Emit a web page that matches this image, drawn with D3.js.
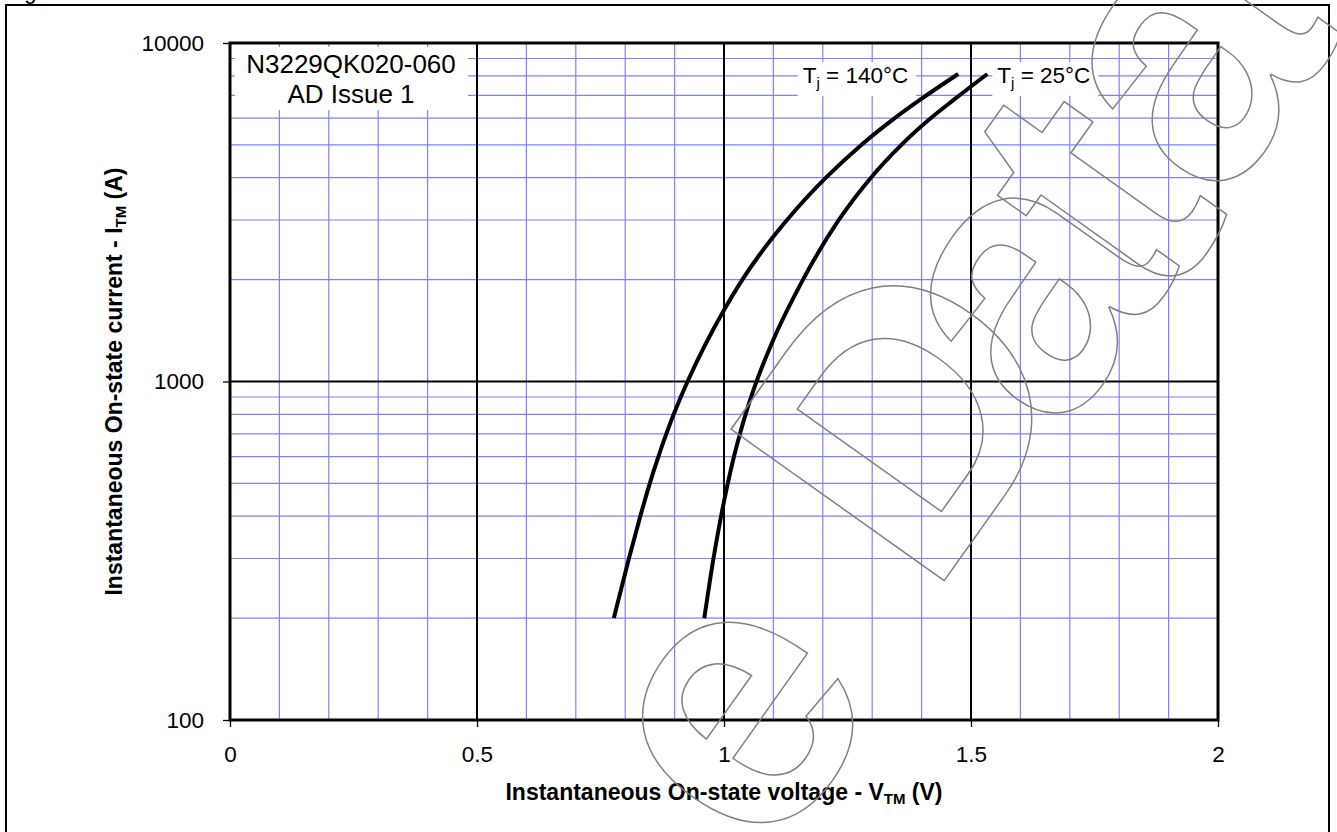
<!DOCTYPE html>
<html>
<head>
<meta charset="utf-8">
<script src="https://cdn.jsdelivr.net/npm/d3@7"></script>
<style>
	html, body { margin: 0; padding: 0; background: #fff; }
	svg { display: block; font-family: Arial, "Liberation Sans", sans-serif; }
</style>
</head>
<body>
<div id="chart"></div>
<script>
// values
var partLines = ['N3229QK020-060', 'AD Issue 1'];
var xTicks = [0, 0.5, 1, 1.5, 2];
var yTicks = [100, 1000, 10000];
var yMinor = [200, 300, 400, 500, 600, 700, 800, 900, 2000, 3000, 4000, 5000, 6000, 7000, 8000, 9000];

// Tj = 140°C
var volt140 = [0.777, 0.8075, 0.8306, 0.8498, 0.8672, 0.8832, 0.8982, 0.9126, 0.9263, 1.0, 1.0372, 1.0731, 1.1275, 1.2063, 1.2779, 1.3457, 1.3972, 1.4741];
var curr140 = [200, 300, 400, 500, 600, 700, 800, 900, 1000, 1626, 2000, 2381, 3000, 4000, 5000, 6000, 6800, 8100];
// Tj = 25°C
var volt25 = [0.9601, 0.9787, 0.9941, 1.0077, 1.0202, 1.0322, 1.0437, 1.0549, 1.0658, 1.0970, 1.1599, 1.2324, 1.2974, 1.3591, 1.4188, 1.4654, 1.5330];
var curr25 = [200, 300, 400, 500, 600, 700, 800, 900, 1000, 1300, 2000, 3000, 4000, 5000, 6000, 6800, 8100];

(function () {
	var width = 1337, height = 832;
	var margin = { top: 43, right: 119, bottom: 112, left: 230 };
	var plotW = width - margin.left - margin.right;
	var plotH = height - margin.top - margin.bottom;
	var blue = '#8080ff';

	var svg = d3.select('#chart').append('svg')
		.attr('width', width).attr('height', height);

	// outer frame (bottom edge runs off the page)
	svg.append('rect')
		.attr('x', 6).attr('y', 5)
		.attr('width', 1323).attr('height', 900)
		.attr('fill', 'none').attr('stroke', '#000').attr('stroke-width', 2);

	// caption cut off above the frame
	svg.append('text')
		.attr('x', 6).attr('y', -1.5)
		.attr('font-size', 22)
		.text('Figure 1');

	var x = d3.scaleLinear().domain([0, 2]).range([margin.left, margin.left + plotW]);
	var y = d3.scaleLog().domain([100, 10000]).range([margin.top + plotH, margin.top]);

	var xMinor = d3.range(1, 20).map(d => d / 10).filter(d => Math.round(d * 10) % 5 !== 0);

	var grid = svg.append('g');
	grid.selectAll('.vminor').data(xMinor).enter().append('line')
		.attr('x1', d => x(d)).attr('x2', d => x(d))
		.attr('y1', y(100)).attr('y2', y(10000))
		.attr('stroke', blue).attr('stroke-width', 1.2);
	grid.selectAll('.hminor').data(yMinor).enter().append('line')
		.attr('x1', x(0)).attr('x2', x(2))
		.attr('y1', d => y(d)).attr('y2', d => y(d))
		.attr('stroke', blue).attr('stroke-width', 1.2);

	// major grid lines
	grid.selectAll('.vmajor').data(xTicks.slice(1, -1)).enter().append('line')
		.attr('x1', d => x(d)).attr('x2', d => x(d))
		.attr('y1', y(100)).attr('y2', y(10000))
		.attr('stroke', '#000').attr('stroke-width', 2);
	grid.selectAll('.hmajor').data(yTicks.slice(1, -1)).enter().append('line')
		.attr('x1', x(0)).attr('x2', x(2))
		.attr('y1', d => y(d)).attr('y2', d => y(d))
		.attr('stroke', '#000').attr('stroke-width', 2);

	// axes
	var xAxis = svg.append('g')
		.attr('transform', 'translate(0,' + y(100) + ')')
		.call(d3.axisBottom(x).tickValues(xTicks).tickSize(7).tickPadding(19).tickFormat(d3.format('')));
	var yAxis = svg.append('g')
		.attr('transform', 'translate(' + x(0) + ',0)')
		.call(d3.axisLeft(y).tickValues(yTicks).tickSize(7).tickPadding(19).tickFormat(d3.format('d')));
	[xAxis, yAxis].forEach(a => {
		a.select('.domain').remove();
		a.selectAll('line').attr('stroke', '#000').attr('stroke-width', 1.3);
		a.selectAll('text').attr('font-size', 22.5).attr('font-family', 'Arial, "Liberation Sans", sans-serif').attr('fill', '#000');
	});

	// plot border
	svg.append('rect')
		.attr('x', x(0)).attr('y', y(10000))
		.attr('width', plotW).attr('height', plotH)
		.attr('fill', 'none').attr('stroke', '#000').attr('stroke-width', 3);

	// part number box
	svg.append('rect')
		.attr('x', 235).attr('y', 47).attr('width', 233).attr('height', 63)
		.attr('fill', '#fff');
	svg.append('text')
		.attr('x', 351).attr('text-anchor', 'middle').attr('font-size', 26)
		.selectAll('tspan').data(partLines).enter().append('tspan')
		.attr('x', 351).attr('y', (d, i) => 73 + i * 30)
		.text(d => d);

	// curves
	var line = d3.line()
		.x(d => x(d[0])).y(d => y(d[1]))
		.curve(d3.curveMonotoneX);
	var series = [
		{ label: '140°C', pts: volt140.map((v, i) => [v, curr140[i]]), side: 'left' },
		{ label: '25°C', pts: volt25.map((v, i) => [v, curr25[i]]), side: 'right' }
	];

	series.forEach(s => {
		var end = s.pts[s.pts.length - 1];
		var ex = x(end[0]), ey = y(end[1]);
		var g = svg.append('g');
		var bg = g.append('rect').attr('fill', '#fff');
		var t = g.append('text')
			.attr('font-size', 22.5)
			.attr('y', ey + 9)
			.attr('x', s.side === 'left' ? ex - 50 : ex + 10)
			.attr('text-anchor', s.side === 'left' ? 'end' : 'start');
		t.append('tspan').text('T');
		t.append('tspan').attr('font-size', 15).attr('dy', 5).text('j');
		t.append('tspan').attr('dy', -5).text(' = ' + s.label);
		var bb = t.node().getBBox();
		bg.attr('x', bb.x - 5).attr('y', bb.y - 1)
			.attr('width', bb.width + 13).attr('height', bb.height + 6);
	});

	svg.selectAll('.curve').data(series).enter().append('path')
		.attr('d', d => line(d.pts))
		.attr('fill', 'none').attr('stroke', '#000').attr('stroke-width', 4);

	// axis titles
	var xt = svg.append('text')
		.attr('x', (x(0) + x(2)) / 2).attr('y', 800)
		.attr('text-anchor', 'middle').attr('font-size', 23).attr('font-weight', 'bold');
	xt.append('tspan').text('Instantaneous On-state voltage - V');
	xt.append('tspan').attr('font-size', 15).attr('dy', 4).text('TM');
	xt.append('tspan').attr('dy', -4).text(' (V)');

	var yt = svg.append('text')
		.attr('transform', 'translate(122,' + (y(1000)) + ') rotate(-90)')
		.attr('text-anchor', 'middle').attr('font-size', 23).attr('font-weight', 'bold');
	yt.append('tspan').text('Instantaneous On-state current - I');
	yt.append('tspan').attr('font-size', 15).attr('dy', 4).text('TM');
	yt.append('tspan').attr('dy', -4).text(' (A)');

	// outlined watermark across the chart, letters nudged one by one
	var mark = svg.append('text')
		.attr('transform', 'translate(967,388) rotate(-54.6)')
		.attr('x', -507).attr('y', 114)
		.attr('font-size', 380).attr('font-weight', 'bold')
		.attr('fill', 'none').attr('stroke', '#808080').attr('stroke-width', 1.5);
	[['e', 0, 0], ['D', 100, -21], ['a', -70, 12], ['t', -50, 9], ['a', -5, -12]].forEach(l => {
		mark.append('tspan').attr('dx', l[1]).attr('dy', l[2]).text(l[0]);
	});
})();
</script>
</body>
</html>
